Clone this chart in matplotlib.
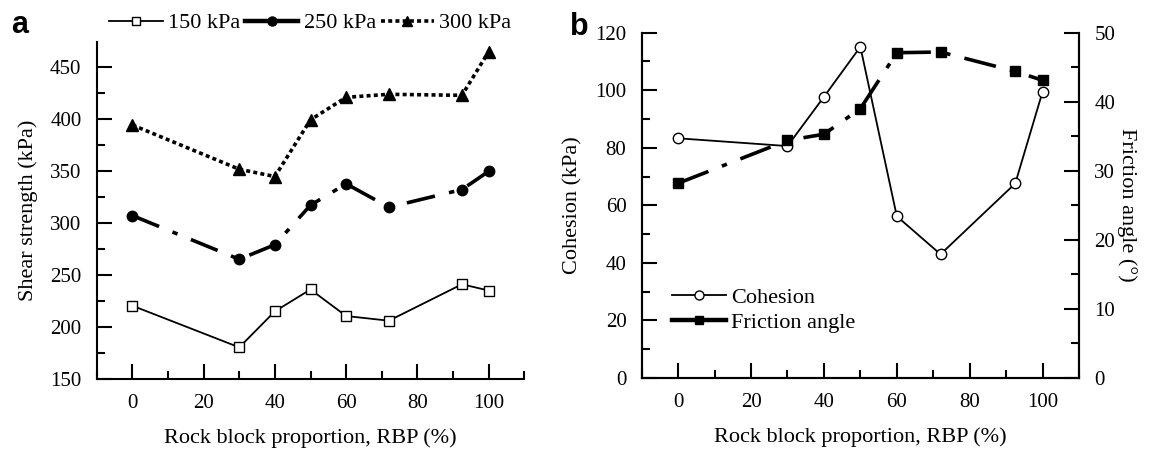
import matplotlib
matplotlib.use("Agg")
import matplotlib.pyplot as plt
from matplotlib.lines import Line2D
from matplotlib.ticker import MultipleLocator

plt.rcParams["font.family"] = ["Liberation Serif", "DejaVu Serif"]

# rock block proportion (%)
rbp = [0, 30, 40, 50, 60, 72, 92.5, 100]

# shear strength (kPa) at three normal stresses
tau_150 = [220.4, 180.4, 215, 236, 210.5, 206, 241, 235]
tau_250 = [307, 265, 279, 317, 337.5, 315, 332, 349.5]
tau_300 = [394, 351.5, 344.5, 399, 420.6, 423.5, 422.5, 464.4]

# strength parameters
cohesion = [83.3, 80.6, 97.7, 115.1, 56.2, 43.0, 67.6, 99.5]
friction = [28.2, 34.4, 35.3, 39.0, 47.1, 47.2, 44.4, 43.1]

XLABEL = "Rock block proportion, RBP (%)"
LABEL_FS = 16
TICK_FS = 15


def style_ticks(ax):
    ax.tick_params(which="major", direction="in", length=11, width=1.5,
                   labelsize=TICK_FS, pad=11)
    ax.tick_params(which="minor", direction="in", length=6, width=1.5)


def style_axis(ax, right=False):
    ax.spines["top"].set_visible(False)
    if not right:
        ax.spines["right"].set_visible(False)
    for sp in ax.spines.values():
        sp.set_linewidth(1.5)
    style_ticks(ax)
    ax.tick_params(axis="x", which="both", top=False)
    ax.xaxis.set_major_locator(MultipleLocator(20))
    ax.xaxis.set_minor_locator(MultipleLocator(10))
    ax.set_xlim(-10, 110)
    ax.set_xlabel(XLABEL, fontsize=LABEL_FS, labelpad=11)


fig = plt.figure(figsize=(11.49, 4.54), dpi=100)

# panel a: shear strength
ax1 = fig.add_axes([0.0842, 0.1652, 0.3721, 0.7429])
ax1.plot(rbp, tau_150, color="black", lw=1.3, marker="s", ms=6.5, mfc="white",
         mec="black", mew=1.0)
ax1.plot(rbp, tau_250, color="black", lw=2.6, dashes=(8, 4, 1.5, 4), marker="o",
         ms=7.5, mfc="black", mec="black")
ax1.plot(rbp, tau_300, color="black", lw=2.6, dashes=(1.1, 0.9), marker="^",
         ms=8, mfc="black", mec="black")
style_axis(ax1)
ax1.set_ylim(150, 474)
ax1.yaxis.set_major_locator(MultipleLocator(50))
ax1.yaxis.set_minor_locator(MultipleLocator(25))
ax1.set_ylabel("Shear strength (kPa)", fontsize=LABEL_FS, labelpad=9)

h150 = Line2D([], [], color="black", lw=1.3, marker="s", ms=6, mfc="white", mec="black")
h250 = Line2D([], [], color="black", lw=3.2, marker="o", ms=6.5, mfc="black", mec="black")
h300 = Line2D([], [], color="black", lw=2.6, dashes=(1.1, 0.9), marker="^", ms=7,
              mfc="black", mec="black")
ax1.legend([h150, h250, h300], ["150 kPa", "250 kPa", "300 kPa"],
           loc="center", bbox_to_anchor=(0.5, 1.055), ncol=3, frameon=False,
           fontsize=LABEL_FS, handlelength=2.4, handletextpad=0.25,
           columnspacing=0.2, borderaxespad=0, borderpad=0)
fig.text(0.010, 0.927, "a", fontsize=22, fontweight="bold", family="Liberation Sans")

# panel b: cohesion and friction angle
ax2 = fig.add_axes([0.5585, 0.1674, 0.3806, 0.7606])
ax3 = ax2.twinx()
ax2.plot(rbp, cohesion, color="black", lw=1.3, marker="o", ms=7.5, mfc="white",
         mec="black", mew=1.0)
ax3.plot(rbp, friction, color="black", lw=2.6, dashes=(9, 4, 1.5, 4), marker="s",
         ms=7, mfc="black", mec="black")
style_axis(ax2, right=True)
ax2.set_ylim(0, 120)
ax2.yaxis.set_major_locator(MultipleLocator(20))
ax2.yaxis.set_minor_locator(MultipleLocator(10))
ax2.set_ylabel("Cohesion (kPa)", fontsize=LABEL_FS, labelpad=9)

ax3.spines["top"].set_visible(False)
for sp in ax3.spines.values():
    sp.set_linewidth(1.5)
ax3.set_ylim(0, 50)
ax3.yaxis.set_major_locator(MultipleLocator(10))
ax3.yaxis.set_minor_locator(MultipleLocator(5))
style_ticks(ax3)
ax3.set_ylabel("Friction angle (°)", fontsize=LABEL_FS, rotation=270, labelpad=16)

hc = Line2D([], [], color="black", lw=1.3, marker="o", ms=6.5, mfc="white", mec="black")
hf = Line2D([], [], color="black", lw=3.2, marker="s", ms=6, mfc="black", mec="black")
ax2.legend([hc, hf], ["Cohesion", "Friction angle"], loc="lower left",
           bbox_to_anchor=(0.07, 0.13), frameon=False, fontsize=LABEL_FS,
           handlelength=2.4, handletextpad=0.25, labelspacing=0.2,
           borderaxespad=0, borderpad=0)
fig.text(0.496, 0.923, "b", fontsize=22, fontweight="bold", family="Liberation Sans")

fig.savefig("out.png", dpi=100)
